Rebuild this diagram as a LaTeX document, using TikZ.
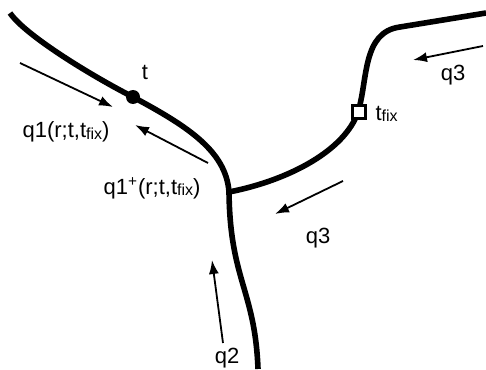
\documentclass[tikz,border=0pt]{standalone}
\usepackage{fontspec}
\setmainfont{Liberation Sans}
\usetikzlibrary{arrows.meta,positioning}
\tikzset{
  branch/.style={line width=2.8pt},
  flow/.style={line width=0.9pt,-{Latex[length=7pt,width=5pt]}},
  lbl/.style={inner sep=0pt,font=\fontsize{11}{13}\selectfont},
  endpt/.style={circle,fill,inner sep=0pt,minimum size=7pt},
  fixpt/.style={rectangle,draw,fill=white,line width=1.6pt,inner sep=0pt,minimum size=6.5pt}
}
\newcommand{\tfix}{t\raisebox{-0.15ex}{\fontsize{8}{9}\selectfont fix}}
\begin{document}
\begin{tikzpicture}[x=0.5pt,y=-0.5pt]
  \useasboundingbox (0,0) rectangle (486,369);
  \coordinate (s1) at (10,13);
  \coordinate (j) at (229,192);
  \coordinate (s2) at (258,369);
  \coordinate (s3) at (486,13);
  \coordinate (k) at (400,27);
  \draw[branch] (s1) .. controls (25,35) and (90,75) .. (133,97)
    .. controls (185,125) and (226,150) .. (j)
    .. controls (230,280) and (255,290) .. (s2);
  \draw[branch] (j) .. controls (290,180) and (345,150) .. (358,112)
    .. controls (368,80) and (362,32) .. (k) -- (s3);
  \node[endpt] (t) at (133,97) {};
  \node[fixpt] (fix) at (359,112) {};
  \node[lbl] (tlab) at (145,72) {t};
  \node[lbl,right=4pt of fix,yshift=-1pt] (fixlab) {\tfix};
  \node[lbl] (q1) at (66,132) {q1(r;t,\tfix)};
  \node[lbl] (q1p) at (152,188) {q1\textsuperscript{+}(r;t,\tfix)};
  \node[lbl] (q3a) at (453,75) {q3};
  \node[lbl] (q3b) at (318,238) {q3};
  \node[lbl] (q2) at (227,358) {q2};
  \coordinate (a1s) at (20,63);   \coordinate (a1e) at (113,107);
  \coordinate (a2s) at (208,163); \coordinate (a2e) at (135,125);
  \coordinate (a3s) at (483,46);  \coordinate (a3e) at (413,60);
  \coordinate (a4s) at (343,181); \coordinate (a4e) at (275,214);
  \coordinate (a5s) at (223,343); \coordinate (a5e) at (212,260);
  \draw[flow] (a1s) -- (a1e);
  \draw[flow] (a2s) -- (a2e);
  \draw[flow] (a3s) -- (a3e);
  \draw[flow] (a4s) -- (a4e);
  \draw[flow] (a5s) -- (a5e);
\end{tikzpicture}
\end{document}
